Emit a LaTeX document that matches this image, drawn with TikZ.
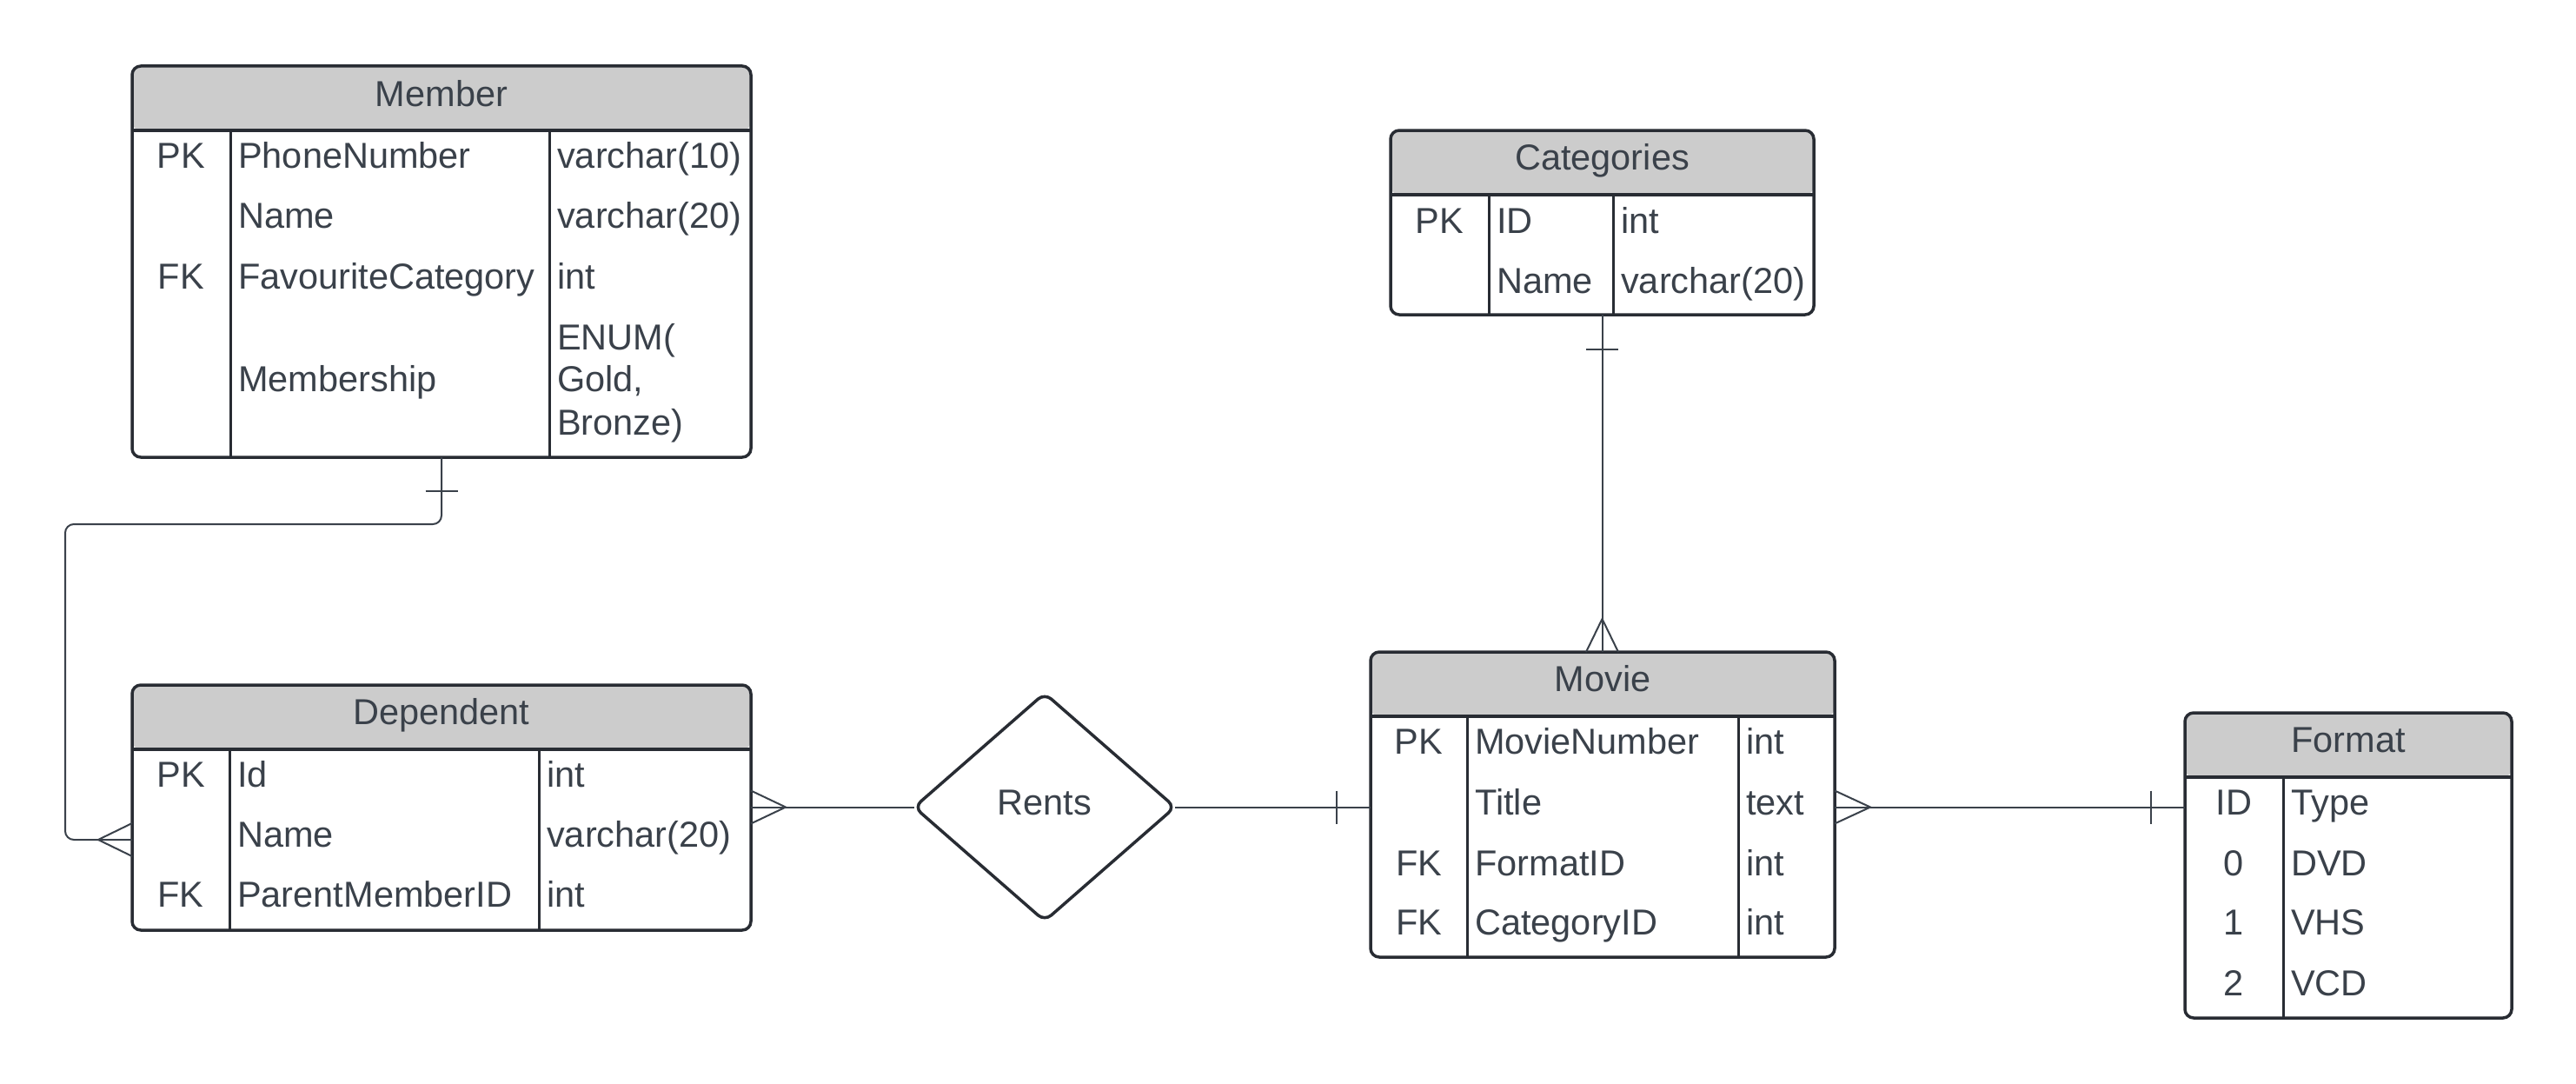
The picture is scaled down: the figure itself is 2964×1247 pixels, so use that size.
\documentclass[tikz,border=0pt]{standalone}
\usepackage{fontspec}
\setmainfont{Liberation Sans}
\usetikzlibrary{shapes.geometric,calc}
\definecolor{linecol}{HTML}{282C33}
\definecolor{txtcol}{HTML}{3A414A}
\definecolor{headcol}{HTML}{CCCCCC}
\definecolor{conncol}{HTML}{3A414A}
\begin{document}
\begin{tikzpicture}[x=1pt,y=-1pt,
  every node/.style={font=\fontsize{41.5}{49}\selectfont, text=txtcol, inner sep=0pt},
  entity/.style 2 args={rectangle, draw=linecol, line width=3.5pt, rounded corners=10pt,
    fill=white, outer sep=0pt, minimum width=#1, minimum height=#2,
    path picture={\fill[headcol] (path picture bounding box.north west)
      rectangle ([yshift=-74pt]path picture bounding box.north east);}},
  relation/.style={diamond, draw=linecol, line width=3.5pt, rounded corners=10pt,
    fill=white, outer sep=0pt, minimum width=300pt, minimum height=262pt},
  headline/.style={draw=linecol, line width=4pt},
  colline/.style={draw=linecol, line width=3pt},
  conn/.style={draw=conncol, line width=2pt},
  ttl/.style={anchor=base},
  key/.style={anchor=base},
  fld/.style={anchor=base west}]

\useasboundingbox (0,0) rectangle (2964,1247);
\fill[white] (0,0) rectangle (2964,1247);

% bend points of the Member--Dependent connector
\coordinate (bendA) at (75,603);
\coordinate (bendB) at (75,966);

% ---------- entity boxes ----------
\node[entity={712pt}{450pt}] (member) at (508,301) {};
\node[entity={712pt}{282pt}] (dependent) at (508,929) {};
\node[entity={487pt}{212pt}] (categories) at (1843.5,256) {};
\node[entity={534pt}{351pt}] (movie) at (1844,925.5) {};
\node[entity={376pt}{351pt}] (format) at (2702,995.5) {};
\node[relation] (rents) at (1202,928.5) {};

% header separators and column lines
\foreach \e/\a/\b in {member/113/480, dependent/112/468, categories/113/256, movie/111/423}{
  \draw[headline] ([yshift=-74pt]\e.north west) -- ([yshift=-74pt]\e.north east);
  \draw[colline] ([xshift=\a pt, yshift=-74pt]\e.north west) -- ([xshift=\a pt]\e.south west);
  \draw[colline] ([xshift=\b pt, yshift=-74pt]\e.north west) -- ([xshift=\b pt]\e.south west);
}
\draw[headline] ([yshift=-74pt]format.north west) -- ([yshift=-74pt]format.north east);
\draw[colline] ([xshift=113pt, yshift=-74pt]format.north west) -- ([xshift=113pt]format.south west);

% ---------- Member ----------
\node[ttl] (m-t) at (508,122) {Member};
\node[key] (m-k1) at (208.5,193) {PK};
\node[fld] (m-n1) at (274,193) {PhoneNumber};
\node[fld] (m-d1) at (641,193) {varchar(10)};
\node[fld] (m-n2) at (274,262) {Name};
\node[fld] (m-d2) at (641,262) {varchar(20)};
\node[key] (m-k3) at (208.5,332) {FK};
\node[fld] (m-n3) at (274,332) {FavouriteCategory};
\node[fld] (m-d3) at (641,332) {int};
\node[fld] (m-n4) at (274,450) {Membership};
\node[fld] (m-d4a) at (641,402) {ENUM(};
\node[fld] (m-d4b) at (641,450) {Gold,};
\node[fld] (m-d4c) at (641,500) {Bronze)};

% ---------- Dependent ----------
\node[ttl] (d-t) at (508,833) {Dependent};
\node[key] (d-k1) at (208,905) {PK};
\node[fld] (d-n1) at (273,905) {Id};
\node[fld] (d-d1) at (629,905) {int};
\node[fld] (d-n2) at (273,974) {Name};
\node[fld] (d-d2) at (629,974) {varchar(20)};
\node[key] (d-k3) at (208,1043) {FK};
\node[fld] (d-n3) at (273,1043) {ParentMemberID};
\node[fld] (d-d3) at (629,1043) {int};

% ---------- Categories ----------
\node[ttl] (c-t) at (1843.5,195) {Categories};
\node[key] (c-k1) at (1656.5,268) {PK};
\node[fld] (c-n1) at (1722,268) {ID};
\node[fld] (c-d1) at (1865,268) {int};
\node[fld] (c-n2) at (1722,337) {Name};
\node[fld] (c-d2) at (1865,337) {varchar(20)};

% ---------- Movie ----------
\node[ttl] (v-t) at (1844,795) {Movie};
\node[key] (v-k1) at (1632.5,867) {PK};
\node[fld] (v-n1) at (1697,867) {MovieNumber};
\node[fld] (v-d1) at (2009,867) {int};
\node[fld] (v-n2) at (1697,937) {Title};
\node[fld] (v-d2) at (2009,937) {text};
\node[key] (v-k3) at (1632.5,1007) {FK};
\node[fld] (v-n3) at (1697,1007) {FormatID};
\node[fld] (v-d3) at (2009,1007) {int};
\node[key] (v-k4) at (1632.5,1075) {FK};
\node[fld] (v-n4) at (1697,1075) {CategoryID};
\node[fld] (v-d4) at (2009,1075) {int};

% ---------- Format ----------
\node[ttl] (f-t) at (2702,865) {Format};
\node[key] (f-k1) at (2570.5,937) {ID};
\node[fld] (f-n1) at (2636,937) {Type};
\node[key] (f-k2) at (2570.5,1007) {0};
\node[fld] (f-n2) at (2636,1007) {DVD};
\node[key] (f-k3) at (2570.5,1075) {1};
\node[fld] (f-n3) at (2636,1075) {VHS};
\node[key] (f-k4) at (2570.5,1145) {2};
\node[fld] (f-n4) at (2636,1145) {VCD};

% ---------- relationship label ----------
\node[anchor=base] (rents-label) at ($(rents.center)+(0,8.5)$) {Rents};

% ---------- connectors ----------
% Member (one) to Dependent (many)
\draw[conn, rounded corners=10pt] (member.south) -- (member.south |- bendA) -- (bendA)
  -- (bendB) -- (dependent.west |- bendB);
\draw[conn] ($(member.south)+(-18.5,39)$) -- ($(member.south)+(18.5,39)$);
\draw[conn] ($(dependent.west |- bendB)+(0,-19)$) -- ($(dependent.west |- bendB)+(-39,0)$)
  -- ($(dependent.west |- bendB)+(0,19)$);

% Categories (one) to Movie (many)
\draw[conn] (categories.south) -- (categories.south |- movie.north);
\draw[conn] ($(categories.south)+(-18.5,40)$) -- ($(categories.south)+(18.5,40)$);
\draw[conn] ($(categories.south |- movie.north)+(-18.5,0)$) -- ($(categories.south |- movie.north)+(0,-38)$)
  -- ($(categories.south |- movie.north)+(18.5,0)$);

% Dependent (many) to Rents
\draw[conn] (dependent.east |- rents.west) -- (rents.west);
\draw[conn] ($(dependent.east |- rents.west)+(0,-19)$) -- ($(dependent.east |- rents.west)+(40,0)$)
  -- ($(dependent.east |- rents.west)+(0,19)$);

% Rents to Movie (one)
\draw[conn] (rents.east) -- (movie.west |- rents.east);
\draw[conn] ($(movie.west |- rents.east)+(-39,-19)$) -- ($(movie.west |- rents.east)+(-39,19)$);

% Movie (many) to Format (one)
\draw[conn] (movie.east |- rents.east) -- (format.west |- rents.east);
\draw[conn] ($(movie.east |- rents.east)+(0,-19)$) -- ($(movie.east |- rents.east)+(41,0)$)
  -- ($(movie.east |- rents.east)+(0,19)$);
\draw[conn] ($(format.west |- rents.east)+(-39,-19)$) -- ($(format.west |- rents.east)+(-39,19)$);
\end{tikzpicture}
\end{document}
